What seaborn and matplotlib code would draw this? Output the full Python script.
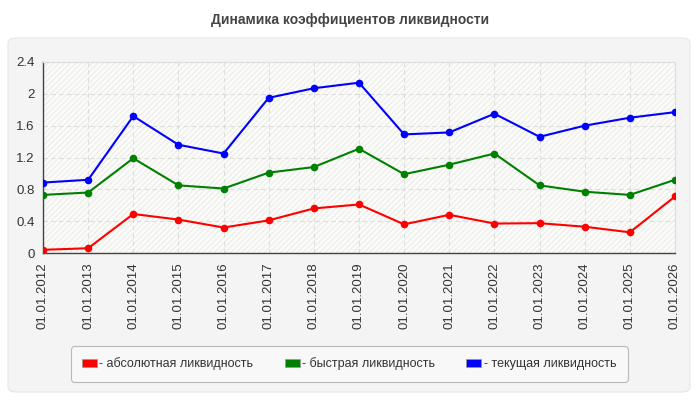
import matplotlib
matplotlib.use("Agg")
import matplotlib.pyplot as plt
import seaborn as sns
import pandas as pd
from matplotlib.patches import FancyBboxPatch, Rectangle, Patch

dates = ["01.01.2012", "01.01.2013", "01.01.2014", "01.01.2015", "01.01.2016",
         "01.01.2017", "01.01.2018", "01.01.2019", "01.01.2020", "01.01.2021",
         "01.01.2022", "01.01.2023", "01.01.2024", "01.01.2025", "01.01.2026"]
absolute = [0.04, 0.06, 0.49, 0.42, 0.32, 0.41, 0.56, 0.61, 0.36, 0.48, 0.37, 0.375, 0.33, 0.26, 0.71]
quick = [0.73, 0.76, 1.19, 0.85, 0.81, 1.01, 1.08, 1.31, 0.99, 1.11, 1.25, 0.85, 0.77, 0.73, 0.92]
current = [0.885, 0.92, 1.72, 1.36, 1.25, 1.95, 2.07, 2.14, 1.49, 1.515, 1.75, 1.46, 1.60, 1.70, 1.77]
series_names = ["абсолютная ликвидность", "быстрая ликвидность", "текущая ликвидность"]
colors = ["#ff0000", "#008000", "#0000ff"]
yticks = [0, 0.4, 0.8, 1.2, 1.6, 2, 2.4]
ytick_labels = ["0", "0.4", "0.8", "1.2", "1.6", "2", "2.4"]
title = "Динамика коэффициентов ликвидности"

sns.set_style("white")
plt.rcParams['font.family'] = ['Liberation Sans', 'DejaVu Sans']

rows = []
for name, vals in zip(series_names, [absolute, quick, current]):
    for i, (d, v) in enumerate(zip(dates, vals)):
        rows.append({"idx": i, "date": d, "value": v, "series": name})
df = pd.DataFrame(rows)

fig = plt.figure(figsize=(7, 4), dpi=100)
fig.patch.set_facecolor("white")
panel = FancyBboxPatch((8 / 700, 8 / 400), 682 / 700, 354 / 400,
                       boxstyle="round,pad=0,rounding_size=0.012",
                       transform=fig.transFigure, facecolor="#f4f4f4",
                       edgecolor="#e6e6e6", linewidth=0.8, zorder=-10)
fig.patches.append(panel)

fig.text(0.5, 1 - 20 / 400, title, ha="center", va="center",
         fontsize=10, fontweight="bold", color="#444444")

ax = fig.add_axes([43 / 700, 1 - 253 / 400, (675 - 43) / 700, (253 - 62) / 400])
ax.set_zorder(1)
ax.set_facecolor("#fcfcf9")
ax.add_patch(Rectangle((0, 0), 1, 1, transform=ax.transAxes, facecolor="none",
                       edgecolor="#eeeeee", hatch="//////", linewidth=0, zorder=0))

sns.lineplot(data=df, x="idx", y="value", hue="series", palette=colors,
             marker="o", markersize=5.5, markeredgewidth=0, linewidth=1.5,
             ax=ax, legend=False, zorder=3)

ax.set_xlim(0, len(dates) - 1)
ax.set_ylim(0, 2.4)
ax.set_xticks(range(len(dates)))
ax.set_xticklabels(dates, rotation=90, fontsize=9.5, color="#333333")
ax.set_yticks(yticks)
ax.set_yticklabels(ytick_labels, fontsize=9.5, color="#333333")
ax.set_xlabel("")
ax.set_ylabel("")
ax.grid(True, color="#dddddd", linestyle=(0, (4, 3)), linewidth=0.8)
ax.set_axisbelow(True)
for s in ["left", "bottom"]:
    ax.spines[s].set_color("#444444")
    ax.spines[s].set_linewidth(1)
for s in ["top", "right"]:
    ax.spines[s].set_color("#dddddd")
    ax.spines[s].set_linewidth(0.8)
ax.tick_params(axis="both", length=4, color="#444444", pad=2)
ax.tick_params(axis="x", pad=3)

handles = [Patch(facecolor=c, edgecolor="#999999", linewidth=0.5) for c in colors]
labels = ["- " + n for n in series_names]
leg = fig.legend(handles, labels, loc="center", ncol=3,
                 bbox_to_anchor=(349 / 700, 1 - 364 / 400),
                 frameon=True, fontsize=9, handlelength=1.2, handleheight=0.7,
                 handletextpad=0.2, columnspacing=2.5, borderpad=0.9)
leg.set_zorder(2)
frame = leg.get_frame()
frame.set_facecolor("#fafafa")
frame.set_edgecolor("#aaaaaa")
frame.set_linewidth(0.8)
frame.set_boxstyle("round,pad=0,rounding_size=0.3")
for t in leg.get_texts():
    t.set_color("#333333")

fig.savefig("out.png", dpi=100)
